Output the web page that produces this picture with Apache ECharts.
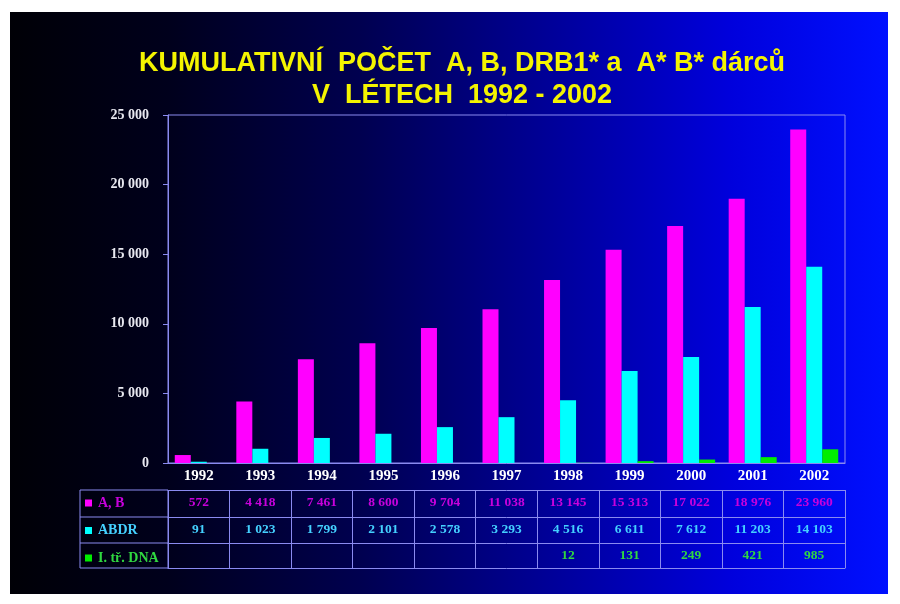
<!DOCTYPE html>
<html>
<head>
<meta charset="utf-8">
<script src="https://cdn.jsdelivr.net/npm/echarts@6/dist/echarts.min.js"></script>
<style>
  html, body { margin: 0; padding: 0; background: #fff; }
  #bg {
    position: absolute; left: 10px; top: 12px; width: 878px; height: 582px;
    background: linear-gradient(to right, #000006 0%, #00001c 18%, #000050 40%, #00009a 62%, #0000dc 82%, #0010ff 100%);
  }
  #myChart { position: absolute; left: 0; top: 0; width: 900px; height: 604px; }
</style>
</head>
<body>
<div id="bg"></div>
<div id="myChart"></div>
<script>
// data
const years = ["1992", "1993", "1994", "1995", "1996", "1997", "1998", "1999", "2000", "2001", "2002"];
const abValues = [572, 4418, 7461, 8600, 9704, 11038, 13145, 15313, 17022, 18976, 23960];
const abdrValues = [91, 1023, 1799, 2101, 2578, 3293, 4516, 6611, 7612, 11203, 14103];
const dnaValues = [null, null, null, null, null, null, 12, 131, 249, 421, 985];
const seriesNames = ["A, B", "ABDR", "I. tř. DNA"];
const yTicks = [0, 5000, 10000, 15000, 20000, 25000];

const serif = "Liberation Serif";
const lineColor = "#8a8af0";
const abColor = "#c800dc";
const abdrColor = "#44d0ff";
const dnaColor = "#30d840";

function fmt(v) {
  if (v === null || v === undefined) return "";
  return String(v).replace(/\B(?=(\d{3})+(?!\d))/g, " ");
}

// one extra category axis per table row; it draws the row's line, separators and values
function rowAxis(offset, values, color, tickLen) {
  return {
    type: "category",
    data: years,
    position: "bottom",
    offset: offset,
    axisLine: { show: true, lineStyle: { color: lineColor, width: 1 } },
    axisTick: { show: tickLen > 0, length: tickLen, lineStyle: { color: lineColor } },
    axisLabel: {
      show: !!values,
      margin: 6,
      fontFamily: serif,
      fontWeight: "bold",
      fontSize: 13.5,
      color: color,
      formatter: (val, idx) => (values ? fmt(values[idx]) : ""),
    },
  };
}

let myChart = echarts.init(document.getElementById("myChart"));
myChart.setOption({
  title: {
    text: "KUMULATIVNÍ  POČET  A, B, DRB1* a  A* B* dárců\nV  LÉTECH  1992 - 2002",
    left: 457,
    textAlign: "center",
    top: 43,
    textStyle: {
      color: "#f4f400",
      fontFamily: "Liberation Sans",
      fontWeight: "bold",
      fontSize: 27,
      lineHeight: 32,
    },
  },
  legend: {
    orient: "vertical",
    left: 80,
    top: 491,
    itemWidth: 7,
    itemHeight: 7,
    itemGap: 13.5,
    icon: "rect",
    selectedMode: false,
    textStyle: { fontFamily: serif, fontWeight: "bold", fontSize: 14, padding: [0, 0, 0, 1] },
    data: [
      { name: seriesNames[0], textStyle: { color: abColor } },
      { name: seriesNames[1], textStyle: { color: abdrColor } },
      { name: seriesNames[2], textStyle: { color: dnaColor } },
    ],
  },
  grid: {
    left: 168,
    right: 55,
    top: 115,
    bottom: 141,
    show: true,
    borderColor: lineColor,
    borderWidth: 1,
  },
  xAxis: [
    {
      type: "category",
      data: years,
      axisLine: { lineStyle: { color: lineColor } },
      axisTick: { length: 27, lineStyle: { color: lineColor } },
      axisLabel: {
        margin: 6,
        color: "#ffffff",
        fontFamily: serif,
        fontWeight: "bold",
        fontSize: 15,
      },
    },
    rowAxis(27, abValues, abColor, 27),
    rowAxis(54, abdrValues, abdrColor, 26),
    rowAxis(80, dnaValues, dnaColor, 25),
    rowAxis(105, null, "#fff", 0),
  ],
  yAxis: {
    type: "value",
    min: yTicks[0],
    max: yTicks[yTicks.length - 1],
    interval: 5000,
    axisLine: { show: true, lineStyle: { color: lineColor } },
    axisTick: { show: true, length: 5, lineStyle: { color: lineColor } },
    splitLine: { show: false },
    axisLabel: {
      margin: 19,
      color: "#e8e8f0",
      fontFamily: serif,
      fontWeight: "bold",
      fontSize: 14,
      formatter: (v) => fmt(v),
    },
  },
  graphic: [
    {
      type: "rect",
      shape: { x: 80, y: 490, width: 88, height: 78 },
      style: { fill: "none", stroke: lineColor, lineWidth: 1 },
    },
    {
      type: "line",
      shape: { x1: 80, y1: 517, x2: 168, y2: 517 },
      style: { stroke: lineColor, lineWidth: 1 },
    },
    {
      type: "line",
      shape: { x1: 80, y1: 543, x2: 168, y2: 543 },
      style: { stroke: lineColor, lineWidth: 1 },
    },
  ],
  series: [
    {
      name: seriesNames[0],
      type: "bar",
      barWidth: 16,
      barGap: "0%",
      itemStyle: { color: "#ff00ff" },
      data: abValues,
    },
    {
      name: seriesNames[1],
      type: "bar",
      barWidth: 16,
      barGap: "0%",
      itemStyle: { color: "#00ffff" },
      data: abdrValues,
    },
    {
      name: seriesNames[2],
      type: "bar",
      barWidth: 16,
      barGap: "0%",
      itemStyle: { color: "#00ee00" },
      data: dnaValues,
    },
  ],
});
</script>
</body>
</html>
